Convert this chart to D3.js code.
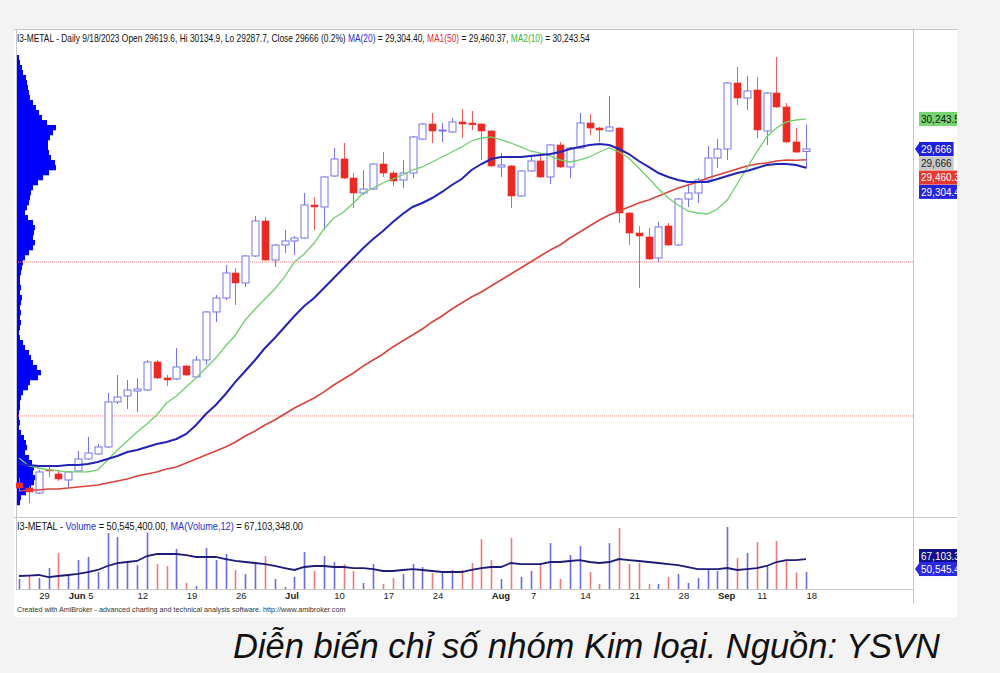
<!DOCTYPE html>
<html><head><meta charset="utf-8">
<script src="https://cdn.jsdelivr.net/npm/d3@7"></script>
<style>
body{margin:0;background:#f3f3f3;}
svg{display:block;font-family:"Liberation Sans",Arial,sans-serif;}
</style></head><body>
<svg id="c" width="1000" height="673"></svg>
<script>
const dates=["2023-05-25","2023-05-26","2023-05-29","2023-05-30","2023-05-31",
"2023-06-01","2023-06-02","2023-06-05","2023-06-06","2023-06-07","2023-06-08","2023-06-09",
"2023-06-12","2023-06-13","2023-06-14","2023-06-15","2023-06-16","2023-06-19","2023-06-20","2023-06-21","2023-06-22","2023-06-23",
"2023-06-26","2023-06-27","2023-06-28","2023-06-29","2023-06-30",
"2023-07-03","2023-07-04","2023-07-05","2023-07-06","2023-07-07","2023-07-10","2023-07-11","2023-07-12","2023-07-13","2023-07-14",
"2023-07-17","2023-07-18","2023-07-19","2023-07-20","2023-07-21","2023-07-24","2023-07-25","2023-07-26","2023-07-27","2023-07-28","2023-07-31",
"2023-08-01","2023-08-02","2023-08-03","2023-08-04","2023-08-07","2023-08-08","2023-08-09","2023-08-10","2023-08-11",
"2023-08-14","2023-08-15","2023-08-16","2023-08-17","2023-08-18","2023-08-21","2023-08-22","2023-08-23","2023-08-24","2023-08-25",
"2023-08-28","2023-08-29","2023-08-30","2023-08-31",
"2023-09-05","2023-09-06","2023-09-07","2023-09-08","2023-09-11","2023-09-12","2023-09-13","2023-09-14","2023-09-15","2023-09-18"];

const open=[23253,23157,23061,23503,23426,23311,23484,23714,23810,23945,24809,24924,25020,25039,25577,25269,25250,25500,25289,25615,
26537,26805,27285,27093,27612,28284,27535,27823,27900,27957,28591,28553,29148,29474,29109,28821,28898,29378,29205,29071,
29205,29858,30146,30012,29993,30185,30165,30146,30012,29321,29340,28764,29244,29436,29129,29743,29321,29685,30165,30069,
30012,30069,28437,28053,27977,27573,28188,27823,28706,28821,29071,29493,29666,30933,30645,30799,30012,30741,30473,29801,29619.6];
const high=[23349,23196,23503,23580,23503,23484,23868,24137,24002,24981,25327,25231,25269,25615,25615,25327,25845,25519,25692,26556,
26863,27439,27381,27631,28380,28361,27842,28111,27996,28821,28745,29148,29685,29781,29205,29263,29397,29609,29244,29455,
29916,30165,30357,30165,30261,30434,30396,30165,30031,29589,29359,29263,29532,29589,29762,29801,29705,30357,30338,30089,
30684,30089,28457,28188,28149,28265,28245,28725,28975,29109,29724,29858,30950,31241,31068,31049,30761,31433,30549,30069,30134.9];
const low=[23081,22869,23042,23369,23292,23177,23465,23695,23791,23925,24770,24674,24617,25020,25250,25116,25231,25308,25269,25519,
26345,26767,26671,27017,27593,27516,27401,27669,27631,27938,28111,28111,29129,29090,28533,28783,28879,29129,28956,28917,
29109,29839,29781,29801,29973,29877,30031,29455,29321,29129,28533,28745,29225,29109,28994,29301,29109,29666,29935,29801,
29993,28245,27823,26997,27535,27497,27804,27804,28553,28629,29052,29301,29455,30511,30415,29877,29743,30453,29781,29590,29287.7];
const close=[23157,23081,23465,23484,23330,23465,23714,23829,23945,24809,24905,25039,25058,25577,25269,25231,25481,25327,25615,26537,
26805,27285,27093,27612,28284,27535,27823,27900,27957,28591,28553,29129,29474,29109,28821,28898,29378,29205,29052,29205,
29897,30146,30012,30031,30185,30146,30130,30012,29340,29359,28764,29244,29436,29129,29743,29321,29685,30165,30069,30031,
30089,28437,28053,27996,27554,28169,27823,28706,28821,29071,29493,29666,30933,30645,30780,30031,30741,30473,29801,29607,29666];

const ma20=[23618,23599,23580,23580,23580,23599,23599,23618,23657,23714,23772,23849,23887,23945,24002,24041,24098,24194,24367,24578,
24751,24962,25193,25404,25615,25845,26037,26249,26460,26652,26805,26997,27189,27381,27573,27765,27938,28092,28265,28418,
28553,28629,28725,28841,28975,29090,29263,29378,29474,29513,29513,29513,29532,29551,29570,29609,29666,29705,29743,29762,
29743,29666,29570,29436,29321,29205,29129,29071,29033,29033,29033,29090,29148,29205,29244,29301,29359,29378,29378,29359,29304.40];
const ma50=[23100,23119,23119,23138,23138,23157,23177,23196,23215,23253,23292,23330,23388,23426,23465,23522,23561,23637,23714,23791,
23868,23945,24041,24156,24252,24367,24463,24578,24693,24789,24885,25001,25135,25250,25365,25500,25615,25730,25865,25980,
26095,26210,26345,26460,26594,26709,26825,26921,27036,27151,27266,27381,27497,27612,27727,27823,27957,28073,28188,28303,
28399,28476,28553,28629,28687,28764,28841,28917,28975,29033,29109,29167,29225,29282,29340,29378,29397,29436,29455,29450,29460.37];
const ma10=[23733,23580,23541,23503,23484,23465,23465,23465,23503,23695,23887,24060,24233,24386,24559,24789,24924,25097,25269,25461,
25653,25884,26095,26383,26594,26786,26978,27209,27497,27650,27861,28130,28341,28457,28629,28821,28917,29013,29090,29167,
29263,29321,29417,29513,29609,29705,29820,29877,29897,29839,29781,29705,29628,29589,29532,29455,29417,29455,29513,29609,
29685,29609,29493,29301,29109,28898,28725,28591,28476,28437,28418,28514,28687,28994,29301,29609,29897,30069,30185,30223,30243.54];

// volume in millions
const volume=[41.6,45.4,42.8,55.6,74.8,46.7,65.8,69.7,50.5,100.3,95.2,63.3,59.4,101.0,60.7,58.2,79.9,36.5,32.6,81.2,
65.8,73.5,53.1,48.0,62.0,70.9,41.6,31.4,44.1,76.0,51.8,70.9,63.3,60.7,51.8,36.5,60.7,35.2,42.8,48.0,
60.7,56.9,49.2,50.5,53.1,53.1,62.0,92.7,65.8,41.6,93.9,44.1,51.8,62.0,87.5,41.6,72.2,83.7,50.5,35.2,
87.5,106.7,60.7,62.0,35.2,35.2,44.1,48.0,36.5,42.8,53.1,51.8,108.0,68.4,74.8,88.8,58.2,90.1,65.8,50.0,50.5454];
const volMA12=[45.4,46.0,46.7,44.1,45.4,46.7,48.0,50.5,53.1,58.2,62.0,63.3,64.6,70.9,73.5,73.5,73.5,72.2,69.7,69.7,
69.7,67.1,64.6,63.3,62.0,60.7,58.2,55.6,53.1,56.9,58.2,58.2,56.9,56.9,55.6,55.6,54.3,51.8,51.8,53.1,
54.3,53.1,51.8,50.5,50.5,50.5,53.1,55.6,56.9,56.9,62.0,60.7,60.7,60.7,63.3,63.3,64.6,65.8,63.3,62.0,
63.3,67.1,65.8,64.6,63.3,62.0,60.7,59.4,56.9,54.3,54.3,54.3,55.6,53.1,54.3,55.6,58.2,63.3,65.8,65.8,67.103348];

const tickDates=["2023-05-29","2023-06-01","2023-06-05","2023-06-12","2023-06-19","2023-06-26","2023-07-03","2023-07-10","2023-07-17",
"2023-07-24","2023-08-01","2023-08-07","2023-08-14","2023-08-21","2023-08-28","2023-09-05","2023-09-11","2023-09-18"];
const tickText=["29","Jun","5","12","19","26","Jul","10","17","24","Aug","7","14","21","28","Sep","11","18"];

const levelLines=[27497,24540];

const profileLevels=[31423,31327,31231,31135,31039,30943,30847,30751,30655,30559,30463,30367,30271,30175,30079,29983,29887,29791,29695,29599,
29503,29407,29311,29215,29119,29023,28927,28831,28735,28639,28543,28447,28351,28255,28159,28063,27967,27871,27775,27679,
27583,27487,27391,27295,27199,27103,27007,26911,26815,26719,26623,26527,26431,26335,26239,26143,26047,25951,25855,25759,
25663,25567,25471,25375,25279,25183,25087,24991,24895,24799,24703,24607,24511,24415,24319,24223,24127,24031,23935,23839,
23743,23647,23551,23455,23359,23263,23167,23071,22975,22879];
const profileVol=[2,3,5,6,9,10,11,12,13,16,19,22,25,30,39,36,33,31,31,32,
34,38,39,32,26,21,16,14,13,12,10,8,11,16,18,17,16,18,16,12,
8,6,5,4,3,3,4,3,5,4,3,4,3,4,3,2,3,6,8,12,
14,16,20,24,21,13,11,6,4,3,3,2,2,3,2,4,7,9,10,8,
12,15,17,16,18,17,14,9,4,3];

const svg=d3.select("#c");
const L=16,R=913,T=30,PB=517,VB=589;
svg.append("rect").attr("width",1000).attr("height",673).attr("fill","#f3f3f3");
svg.append("rect").attr("x",14).attr("y",29).attr("width",943).attr("height",588).attr("fill","#fff");

const defs=svg.append("defs");
defs.append("clipPath").attr("id","plot").append("rect").attr("x",L).attr("y",T).attr("width",R-L).attr("height",PB-T);
defs.append("clipPath").attr("id","vplot").append("rect").attr("x",L).attr("y",PB).attr("width",R-L).attr("height",VB-PB);
defs.append("clipPath").attr("id","win").append("rect").attr("x",14).attr("y",29).attr("width",943).attr("height",588);

const x=d3.scalePoint().domain(dates).range([19,806]);
const y=d3.scaleLinear().domain([22600,31951]).range([PB,T]);
const vy=d3.scaleLinear().domain([28.8,120.8]).range([VB,PB]);
const px=d3.scaleLinear().domain([0,39]).range([0,39]);

// frame lines
const gl=svg.append("g").attr("stroke","#c8c8c8").attr("stroke-width",1);
gl.append("line").attr("x1",14).attr("x2",957).attr("y1",29.5).attr("y2",29.5);
gl.append("line").attr("x1",14).attr("x2",957).attr("y1",PB+0.5).attr("y2",PB+0.5);
gl.append("line").attr("x1",L).attr("x2",R).attr("y1",VB+0.5).attr("y2",VB+0.5);
gl.append("line").attr("x1",R+0.5).attr("x2",R+0.5).attr("y1",29).attr("y2",604);
gl.append("line").attr("x1",L+0.5).attr("x2",L+0.5).attr("y1",29).attr("y2",VB);

const plot=svg.append("g").attr("clip-path","url(#plot)");
// volume profile
plot.append("g").selectAll("rect").data(profileLevels).join("rect")
  .attr("x",L+1).attr("y",d=>y(d+48)).attr("height",d=>y(d-48)-y(d+48)+0.3)
  .attr("width",(d,i)=>px(profileVol[i])).attr("fill","#0000ff");
// level lines
plot.append("g").selectAll("line").data(levelLines).join("line")
  .attr("x1",L).attr("x2",R).attr("y1",d=>y(d)).attr("y2",d=>y(d))
  .attr("stroke","#f08a8a").attr("stroke-width",1).attr("stroke-dasharray","1,1");

// candles
const up=i=>close[i]>=open[i];
const cg=plot.append("g");
dates.forEach((d,i)=>{
  const cx=Math.round(x(d))+0.5;
  const col=up(i)?"#7474ec":"#ee3030";
  cg.append("line").attr("x1",cx).attr("x2",cx).attr("y1",y(high[i])).attr("y2",y(low[i]))
    .attr("stroke",up(i)?"#7474ec":"#f06060").attr("stroke-width",1);
  const top=y(Math.max(open[i],close[i])), bot=y(Math.min(open[i],close[i]));
  cg.append("rect").attr("x",cx-3.5).attr("y",top).attr("width",7).attr("height",Math.max(1,bot-top))
    .attr("fill",up(i)?"#fff":"#ea2a22").attr("stroke",col).attr("stroke-width",up(i)?1:0.6);
});

// MAs
const line=d3.line().x((d,i)=>x(dates[i])).y(d=>y(d));
plot.append("path").datum(ma50).attr("d",line).attr("fill","none").attr("stroke","#d8433c").attr("stroke-width",1.6);
plot.append("path").datum(ma10).attr("d",line).attr("fill","none").attr("stroke","#6fcf6a").attr("stroke-width",1.3);
plot.append("path").datum(ma20).attr("d",line).attr("fill","none").attr("stroke","#2323b8").attr("stroke-width",2);

// volume
const vg=svg.append("g").attr("clip-path","url(#vplot)");
vg.selectAll("line").data(volume).join("line")
  .attr("x1",(d,i)=>Math.round(x(dates[i]))+0.5).attr("x2",(d,i)=>Math.round(x(dates[i]))+0.5)
  .attr("y1",VB).attr("y2",d=>vy(d))
  .attr("stroke",(d,i)=>(i>0&&close[i]<close[i-1])?"#ee7a7a":"#6a6ae8").attr("stroke-width",1.6);
vg.append("path").datum(volMA12).attr("d",d3.line().x((d,i)=>x(dates[i])).y(d=>vy(d)))
  .attr("fill","none").attr("stroke","#1c1c78").attr("stroke-width",1.8);

// titles
const fmt2=d3.format(",.2f");
const n=dates.length-1;
const t1=svg.append("text").attr("transform","translate(17,42) scale(0.84,1)").attr("font-size",10).attr("fill","#111");
const dd=new Date(dates[n]+"T00:00:00");
const pct=((close[n]/close[n-1]-1)*100).toFixed(1);
t1.append("tspan").text(`I3-METAL - Daily ${dd.getMonth()+1}/${dd.getDate()}/${dd.getFullYear()} Open ${open[n]}, Hi ${high[n]}, Lo ${low[n]}, Close ${close[n]} (${pct}%) `);
t1.append("tspan").attr("fill","#2b2bd8").text("MA(20)");
t1.append("tspan").text(` = ${fmt2(ma20[n])}, `);
t1.append("tspan").attr("fill","#e03030").text("MA1(50)");
t1.append("tspan").text(` = ${fmt2(ma50[n])}, `);
t1.append("tspan").attr("fill","#3cb83c").text("MA2(10)");
t1.append("tspan").text(` = ${fmt2(ma10[n])}`);

const t2=svg.append("text").attr("transform","translate(17,530) scale(0.92,1)").attr("font-size",10).attr("fill","#111");
t2.append("tspan").text("I3-METAL - ");
t2.append("tspan").attr("fill","#2b2bd8").text("Volume");
t2.append("tspan").text(` = ${fmt2(volume[n]*1e6)}, `);
t2.append("tspan").attr("fill","#2b2bd8").text("MA(Volume,12)");
t2.append("tspan").text(` = ${fmt2(volMA12[n]*1e6)}`);

// date axis
const ax=svg.append("g").attr("transform",`translate(0,${VB})`)
  .call(d3.axisBottom(x).tickValues(tickDates).tickSize(0).tickFormat(d=>tickText[tickDates.indexOf(d)]));
ax.select(".domain").remove();
ax.selectAll("text").attr("text-anchor","start").attr("dx",0).attr("y",3).attr("dy","0.75em")
  .attr("font-family","Liberation Sans, Arial, sans-serif").attr("font-size",9.5).attr("fill","#222")
  .attr("font-weight",d=>isNaN(+tickText[tickDates.indexOf(d)])?"bold":"normal");

svg.append("text").attr("x",17).attr("y",612).attr("font-size",7.2).attr("fill","#333")
  .text("Created with AmiBroker - advanced charting and technical analysis software. http://www.amibroker.com");

// right value labels
const lab=svg.append("g").attr("clip-path","url(#win)");
const f0=d3.format(",");
const labels=[
  {v:ma10[n],txt:fmt2(ma10[n]),bg:"#74d46e",fg:"#111",arrow:false,sy:y},
  {v:close[n],txt:f0(close[n]),bg:"#1f1fe0",fg:"#fff",arrow:true,sy:y},
  {v:close[n],txt:f0(close[n]),bg:"#c8c8c8",fg:"#222",arrow:false,sy:y},
  {v:ma50[n],txt:fmt2(ma50[n]),bg:"#e8382e",fg:"#fff",arrow:false,sy:y},
  {v:ma20[n],txt:fmt2(ma20[n]),bg:"#2424e0",fg:"#fff",arrow:false,sy:y}
];
let prev=-1e9;
labels.forEach(l=>{ let cy=Math.max(l.sy(l.v),prev+14.3); prev=cy; l.cy=cy; });
const vlabels=[
  {v:volMA12[n],txt:fmt2(volMA12[n]*1e3),bg:"#10108a",fg:"#fff",arrow:false,sy:vy},
  {v:volume[n],txt:fmt2(volume[n]*1e3),bg:"#2a2ae6",fg:"#fff",arrow:true,sy:vy}
];
prev=-1e9;
vlabels.forEach(l=>{ let cy=Math.max(l.sy(l.v)-3,prev+13); prev=cy; l.cy=cy; });
[...labels,...vlabels].forEach(l=>{
  const g=lab.append("g");
  const tx=g.append("text").attr("x",921).attr("y",l.cy+3.6).attr("font-size",10).attr("fill",l.fg).text(l.txt);
  const w=tx.node().getComputedTextLength();
  g.insert("rect","text").attr("x",919).attr("y",l.cy-7).attr("width",w+4).attr("height",14).attr("fill",l.bg);
  if(l.arrow) g.insert("path","text").attr("d",`M915,${l.cy} L920,${l.cy-7} L920,${l.cy+7}Z`).attr("fill",l.bg);
});

// caption
svg.append("text").attr("x",233).attr("y",658).attr("font-size",34.5).attr("font-style","italic").attr("fill","#111")
  .text("Diễn biến chỉ số nhóm Kim loại. Nguồn: YSVN");
</script></body></html>
